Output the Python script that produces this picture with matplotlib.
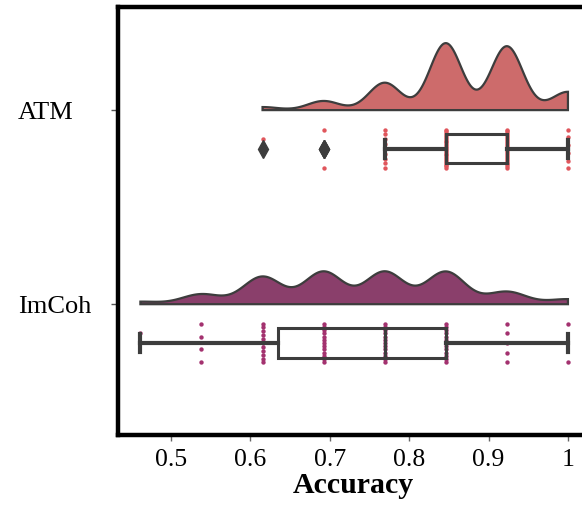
import numpy as np
import matplotlib
matplotlib.use("Agg")
import matplotlib.pyplot as plt

# accuracy levels (k/13) and how many runs reached each one
niveaux = [6/13, 7/13, 8/13, 9/13, 10/13, 11/13, 12/13, 1.0]
groupes = ["ATM", "ImCoh"]
effectifs = {
    "ATM":   [0, 0, 1, 3, 9, 22, 21, 6],
    "ImCoh": [1, 4, 11, 13, 13, 13, 5, 2],
}
largeur_bande = {"ATM": 0.24, "ImCoh": 0.2}
couleurs_violon = {"ATM": "#CD6B6B", "ImCoh": "#8A3F6B"}
couleurs_points = {"ATM": "#E0565C", "ImCoh": "#A3326F"}
xticks = [0.5, 0.6, 0.7, 0.8, 0.9, 1.0]
xtick_labels = ["0.5", "0.6", "0.7", "0.8", "0.9", "1"]

gris = "#3d3d3d"
plt.rcParams["font.family"] = ["Liberation Serif", "DejaVu Serif"]

fig = plt.figure(figsize=(5.82, 5.12), dpi=100)
# the axes runs past the right edge of the figure, as in the original crop
x0, x1 = 0.4333, 1.07
ax = fig.add_axes([0.2027, 0.150, (x1 - x0) * 794 / 582, 0.837])


def kde(donnees, grille, bw):
    # gaussian kde, bandwidth = bw * std (comme scipy avec un facteur scalaire)
    sigma = bw * np.std(donnees, ddof=1)
    d = (grille[:, None] - donnees[None, :]) / sigma
    return np.exp(-0.5 * d ** 2).sum(axis=1) / (len(donnees) * sigma * np.sqrt(2 * np.pi))


donnees = {g: np.repeat(niveaux, effectifs[g]) for g in groupes}
densites = {}
for g in groupes:
    grille = np.linspace(donnees[g].min(), donnees[g].max(), 300)
    densites[g] = (grille, kde(donnees[g], grille, largeur_bande[g]))
dmax = max(d.max() for _, d in densites.values())

hauteur = 0.345
decalage = 0.2
for i, g in enumerate(groupes):
    grille, dens = densites[g]
    y = i - dens / dmax * hauteur
    xs = np.concatenate([[grille[0]], grille, [grille[-1]]])
    ys = np.concatenate([[i], y, [i]])
    ax.fill(xs, ys, color=couleurs_violon[g], edgecolor=gris, linewidth=1.6, zorder=2)

    # nuage de points (dispersion verticale reguliere)
    vals = donnees[g]
    for v in np.unique(vals):
        n = int((vals == v).sum())
        dy = np.linspace(-0.1, 0.1, n) if n > 1 else np.array([-0.05])
        ax.scatter(np.full(n, v), i + decalage + dy, s=10, color=couleurs_points[g],
                   linewidths=0, zorder=3)

    ax.boxplot(vals, positions=[i + decalage], vert=False, widths=0.15, whis=1.5,
               capwidths=0.093, patch_artist=True, manage_ticks=False,
               boxprops=dict(facecolor="none", edgecolor=gris, linewidth=2.2),
               medianprops=dict(color=gris, linewidth=2.2),
               whiskerprops=dict(color=gris, linewidth=3),
               capprops=dict(color=gris, linewidth=3),
               flierprops=dict(marker="d", markersize=9, markerfacecolor=gris,
                               markeredgecolor=gris), zorder=10)

ax.set_xlim(x0, x1)
ax.set_ylim(1.675, -0.533)
ax.set_yticks(range(len(groupes)))
ax.set_yticklabels(groupes, fontsize=19)
for lab in ax.get_yticklabels():
    lab.set_horizontalalignment("left")
ax.tick_params(axis="y", length=5, width=1, color="#555555", pad=67)
ax.set_xticks(xticks)
ax.set_xticklabels(xtick_labels, fontsize=18.5)
ax.tick_params(axis="x", length=4, width=1, color="#666666", pad=6)
# label centred on the visible part of the axes
ax.set_xlabel("Accuracy", fontsize=21.5, fontweight="bold", labelpad=2)
ax.xaxis.set_label_coords((0.7300 - x0) / (x1 - x0), -0.085)

for s in ax.spines.values():
    s.set_linewidth(3.2)
    s.set_color("black")
ax.spines["right"].set_visible(False)

fig.savefig("out.png", dpi=100)
